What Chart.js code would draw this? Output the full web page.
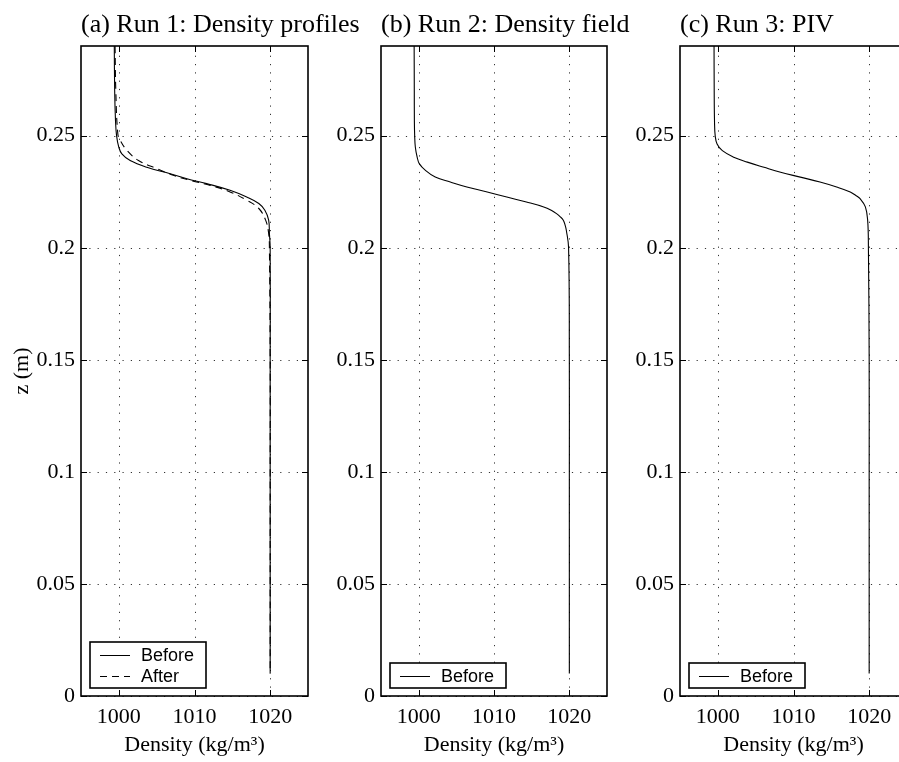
<!DOCTYPE html>
<html>
<head>
<meta charset="utf-8">
<script src="https://cdn.jsdelivr.net/npm/chart.js@4/dist/chart.umd.min.js"></script>
<style>
  html, body { margin: 0; padding: 0; background: #fff; overflow: hidden; }
  #wrap { position: relative; width: 899px; height: 762px; overflow: hidden; }
  .panel { position: absolute; top: 0; height: 762px; }
  .title {
    position: absolute; top: 7.6px; margin: 0; white-space: nowrap;
    font: 26px/31.2px "Liberation Serif", "Times New Roman", serif; color: #000;
  }
</style>
</head>
<body>
<div id="wrap">
  <div class="panel" style="left:0;width:320px"><canvas id="run1" width="320" height="762"></canvas></div>
  <div class="panel" style="left:310px;width:310px"><canvas id="run2" width="310" height="762"></canvas></div>
  <div class="panel" style="left:609px;width:350px"><canvas id="run3" width="350" height="762"></canvas></div>
  <div class="title" style="left:81px">(a) Run 1: Density profiles</div>
  <div class="title" style="left:381px">(b) Run 2: Density field</div>
  <div class="title" style="left:680px">(c) Run 3: PIV</div>
</div>
<script>
  var xMin = 995, xMax = 1025;
  var yMin = 0, yMax = 0.29;
  var xTickValues = [1000, 1010, 1020];
  var xTickLabels = ["1000", "1010", "1020"];
  var yTickValues = [0, 0.05, 0.1, 0.15, 0.2, 0.25];
  var yTickLabels = ["0", "0.05", "0.1", "0.15", "0.2", "0.25"];

  // Run 1, before / after
  var run1BeforeZ = [0.29, 0.27, 0.2567, 0.25, 0.2448, 0.2419, 0.2389, 0.2359, 0.233, 0.2308, 0.2286, 0.2256, 0.2226, 0.2197, 0.2167, 0.2123, 0.2064, 0.2, 0.15, 0.1, 0.05, 0.01];
  var run1BeforeRho = [999.4, 999.45, 999.56, 999.7, 1000.0, 1000.4, 1001.5, 1003.7, 1006.8, 1009.0, 1011.6, 1014.7, 1016.9, 1018.5, 1019.3, 1019.8, 1019.9, 1020.0, 1020.0, 1020.0, 1020.0, 1020.0];
  var run1AfterZ = [0.29, 0.27, 0.2507, 0.2478, 0.2433, 0.2389, 0.2352, 0.2322, 0.23, 0.2278, 0.2249, 0.2212, 0.2175, 0.2123, 0.2064, 0.2, 0.15, 0.1, 0.05, 0.01];
  var run1AfterRho = [999.5, 999.6, 999.87, 1000.2, 1001.1, 1002.6, 1005.1, 1007.3, 1009.5, 1012.1, 1014.7, 1016.9, 1018.5, 1019.4, 1019.8, 1019.9, 1020.0, 1020.0, 1020.0, 1020.0];

  // Run 2
  var run2BeforeZ = [0.29, 0.27, 0.2567, 0.25, 0.2448, 0.2404, 0.2374, 0.2345, 0.2315, 0.2293, 0.2271, 0.2249, 0.2226, 0.2204, 0.2182, 0.2167, 0.2152, 0.2138, 0.2123, 0.21, 0.2078, 0.2, 0.15, 0.1, 0.05, 0.01];
  var run2BeforeRho = [999.4, 999.42, 999.43, 999.47, 999.56, 999.8, 1000.1, 1000.9, 1002.2, 1004.2, 1006.4, 1009.1, 1011.7, 1014.3, 1016.6, 1017.6, 1018.3, 1018.8, 1019.2, 1019.45, 1019.6, 1019.9, 1020.0, 1020.0, 1020.0, 1020.0];

  // Run 3
  var run3BeforeZ = [0.29, 0.27, 0.2567, 0.25, 0.2463, 0.2433, 0.2404, 0.2382, 0.2359, 0.2337, 0.2315, 0.2293, 0.2271, 0.2249, 0.2234, 0.2219, 0.2182, 0.2123, 0.2, 0.15, 0.1, 0.05, 0.01];
  var run3BeforeRho = [999.5, 999.52, 999.56, 999.65, 999.9, 1000.6, 1002.1, 1003.9, 1006.1, 1008.3, 1010.9, 1013.5, 1015.7, 1017.5, 1018.2, 1018.8, 1019.5, 1019.8, 1019.9, 1020.0, 1020.0, 1020.0, 1020.0];

  var SERIF = '"Liberation Serif", "Times New Roman", serif';
  var SANS = '"Liberation Sans", Arial, sans-serif';

  function toPoints(rho, z) {
    return z.map(function (zz, i) {
      return { x: rho[i], y: zz };
    });
  }

  function lineDataset(label, rho, z, dash) {
    return {
      label: label,
      data: toPoints(rho, z),
      showLine: true,
      borderColor: "#000",
      borderWidth: 1.1,
      borderDash: dash || [],
      pointRadius: 0,
      tension: 0.4,
      fill: false,
    };
  }

  // grid, axes box, inward ticks and boxed legend
  var framePlugin = {
    id: "frame",
    beforeDatasetsDraw: function (chart) {
      var ctx = chart.ctx, area = chart.chartArea;
      var xs = chart.scales.x, ys = chart.scales.y;
      ctx.save();
      ctx.strokeStyle = "#333";
      ctx.lineWidth = 1;
      ctx.setLineDash([1.2, 7.1]);
      xTickValues.forEach(function (v) {
        var px = Math.round(xs.getPixelForValue(v)) + 0.5;
        ctx.beginPath();
        ctx.moveTo(px, area.bottom);
        ctx.lineTo(px, area.top);
        ctx.stroke();
      });
      yTickValues.forEach(function (v) {
        var py = Math.round(ys.getPixelForValue(v)) + 0.5;
        ctx.beginPath();
        ctx.moveTo(area.left, py);
        ctx.lineTo(area.right, py);
        ctx.stroke();
      });
      ctx.restore();
    },
    afterDraw: function (chart, args, opts) {
      var ctx = chart.ctx, area = chart.chartArea;
      var xs = chart.scales.x, ys = chart.scales.y;
      var tl = 6;
      ctx.save();
      ctx.strokeStyle = "#000";
      ctx.lineWidth = 1;
      ctx.setLineDash([]);
      xTickValues.forEach(function (v) {
        var px = Math.round(xs.getPixelForValue(v)) + 0.5;
        ctx.beginPath();
        ctx.moveTo(px, area.bottom);
        ctx.lineTo(px, area.bottom - tl);
        ctx.moveTo(px, area.top);
        ctx.lineTo(px, area.top + tl);
        ctx.stroke();
      });
      yTickValues.forEach(function (v) {
        var py = Math.round(ys.getPixelForValue(v)) + 0.5;
        ctx.beginPath();
        ctx.moveTo(area.left, py);
        ctx.lineTo(area.left + tl, py);
        ctx.moveTo(area.right, py);
        ctx.lineTo(area.right - tl, py);
        ctx.stroke();
      });
      ctx.lineWidth = 1.6;
      ctx.strokeRect(area.left, area.top, area.right - area.left, area.bottom - area.top);

      // legend box
      var sets = chart.data.datasets;
      var rowH = 21;
      var w = opts.legendWidth;
      var h = 4 + rowH * sets.length;
      var lx = area.left + opts.legendLeft;
      var ly = area.bottom - opts.legendBottom - h;
      ctx.fillStyle = "#fff";
      ctx.fillRect(lx, ly, w, h);
      ctx.lineWidth = 1.6;
      ctx.strokeRect(lx, ly, w, h);
      ctx.font = "18px " + SANS;
      ctx.textBaseline = "middle";
      ctx.textAlign = "left";
      sets.forEach(function (ds, i) {
        var cy = Math.round(ly + 2 + rowH / 2 + rowH * i) + 0.5;
        ctx.strokeStyle = "#000";
        ctx.lineWidth = 1;
        ctx.setLineDash(ds.borderDash || []);
        ctx.beginPath();
        ctx.moveTo(lx + 10, cy);
        ctx.lineTo(lx + 40, cy);
        ctx.stroke();
        ctx.setLineDash([]);
        ctx.fillStyle = "#000";
        ctx.fillText(ds.label, lx + 51, cy + 1);
      });
      ctx.restore();
    },
  };

  function makeChart(id, datasets, yAxisWidth, rightPad, showYTitle) {
    var font22 = { family: SERIF, size: 22, weight: "normal" };
    return new Chart(document.getElementById(id), {
      type: "scatter",
      data: { datasets: datasets },
      plugins: [framePlugin],
      options: {
        responsive: false,
        animation: false,
        layout: { padding: { top: 46, bottom: 0, left: 0, right: rightPad } },
        plugins: {
          legend: { display: false },
          tooltip: { enabled: false },
          title: { display: false },
          frame: { legendWidth: 116, legendLeft: 9, legendBottom: 8 },
        },
        scales: {
          x: {
            type: "linear",
            min: xMin,
            max: xMax,
            afterBuildTicks: function (s) {
              s.ticks = xTickValues.map(function (v) { return { value: v }; });
            },
            afterFit: function (s) { s.height = 66; },
            grid: { display: false, drawTicks: false },
            border: { display: false },
            ticks: {
              color: "#000",
              font: font22,
              padding: 8,
              maxRotation: 0,
              autoSkip: false,
              callback: function (v, i) { return xTickLabels[i]; },
            },
            title: {
              display: true,
              text: "Density (kg/m\u00B3)",
              color: "#000",
              font: font22,
              padding: { top: 0, bottom: 4 },
            },
          },
          y: {
            type: "linear",
            min: yMin,
            max: yMax,
            afterBuildTicks: function (s) {
              s.ticks = yTickValues.map(function (v) { return { value: v }; });
            },
            afterFit: function (s) { s.width = yAxisWidth; },
            grid: { display: false, drawTicks: false },
            border: { display: false },
            ticks: {
              color: "#000",
              font: font22,
              padding: 6,
              autoSkip: false,
              callback: function (v, i) { return yTickLabels[i]; },
            },
            title: {
              display: showYTitle,
              text: "z (m)",
              color: "#000",
              font: font22,
              padding: { top: 9, bottom: 0 },
            },
          },
        },
      },
    });
  }

  makeChart("run1", [
    lineDataset("Before", run1BeforeRho, run1BeforeZ),
    lineDataset("After", run1AfterRho, run1AfterZ, [7, 5]),
  ], 81, 12, true);

  makeChart("run2", [
    lineDataset("Before", run2BeforeRho, run2BeforeZ),
  ], 71, 13, false);

  makeChart("run3", [
    lineDataset("Before", run3BeforeRho, run3BeforeZ),
  ], 71, 52, false);
</script>
</body>
</html>
